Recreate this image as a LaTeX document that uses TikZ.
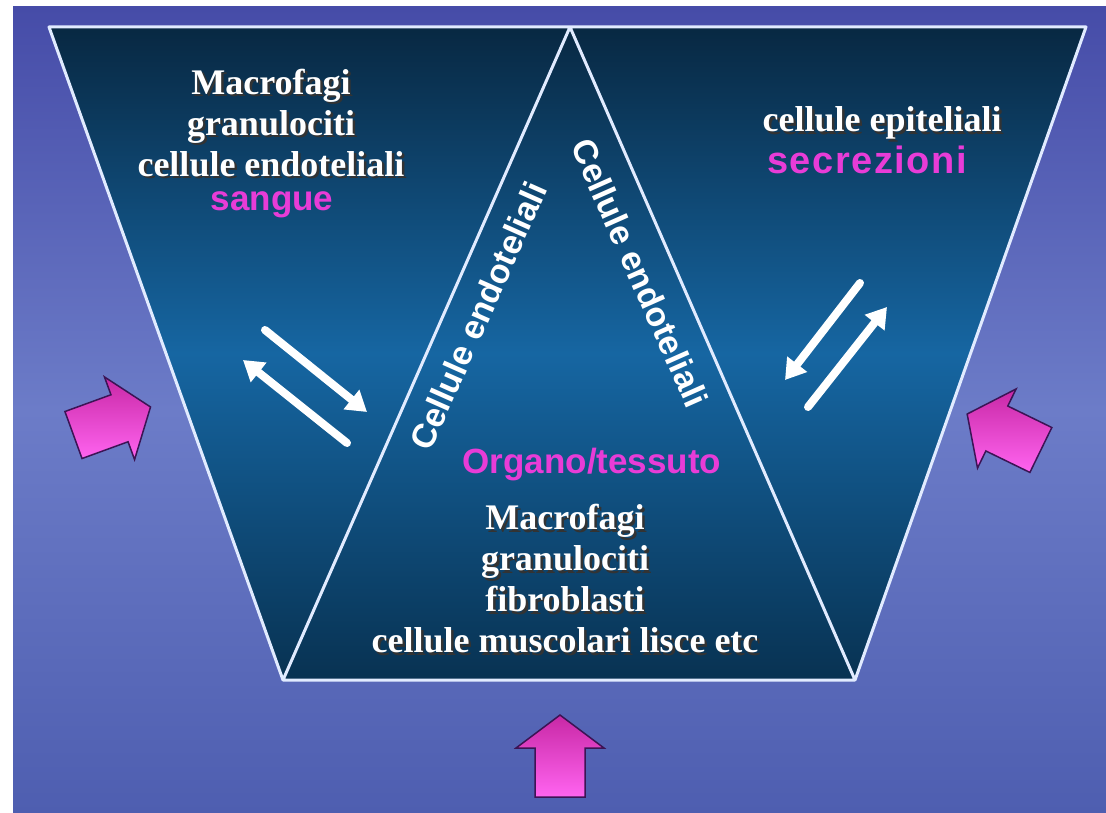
\documentclass[tikz,border=0pt]{standalone}
\usepackage{fontspec}
\setmainfont{Liberation Serif}
\newfontfamily\arialfont{Liberation Sans}
\usetikzlibrary{arrows.meta}

\definecolor{bgtop}{RGB}{70,76,168}
\definecolor{bgmid}{RGB}{108,124,200}
\definecolor{bgbot}{RGB}{78,94,176}
\definecolor{paneltop}{RGB}{8,40,66}
\definecolor{panelmid}{RGB}{22,102,162}
\definecolor{panelbot}{RGB}{8,50,82}
\definecolor{edgeline}{RGB}{225,235,255}
\definecolor{rosa}{RGB}{232,60,215}
\definecolor{arrowdark}{RGB}{200,40,165}
\definecolor{arrowlight}{RGB}{255,100,240}
\definecolor{arrowedge}{RGB}{60,20,85}

\tikzset{
  celltext/.style={text=white, font=\fontsize{36}{41}\selectfont\bfseries, align=center, inner sep=0pt},
  cellshadow/.style={celltext, text=black!80, xshift=2.5pt, yshift=-2.5pt},
  rosatext/.style={text=rosa, font=\fontsize{35}{41}\selectfont\arialfont\bfseries, inner sep=0pt},
  walltext/.style={text=white, font=\fontsize{34}{41}\selectfont\arialfont\bfseries, inner sep=0pt},
  flow/.style={white, line width=8pt, line cap=round, -{Triangle[width=24pt,length=20pt]}},
  push/.style={draw=arrowedge, line width=1.5pt, top color=arrowdark, bottom color=arrowlight, line join=miter},
}

\begin{document}
\begin{tikzpicture}[x=1pt,y=-1pt]
    \useasboundingbox (0,0) rectangle (1106,813);

    % Background of the slide
    \shade[top color=bgtop, bottom color=bgbot, middle color=bgmid] (13,7) rectangle (1106,813);

    % Corners of the three triangles
    \coordinate (tl) at (49,27);
    \coordinate (apex) at (570,27);
    \coordinate (tr) at (1086,27);
    \coordinate (bl) at (283,680);
    \coordinate (br) at (855,680);

    % Panel and its white edges
    \shade[top color=paneltop, bottom color=panelbot, middle color=panelmid] (tl) -- (tr) -- (br) -- (bl) -- cycle;
    \draw[edgeline, line width=3pt, line join=round] (tl) -- (tr) -- (br) -- (bl) -- cycle (bl) -- (apex) -- (br);

    % Blood side
    \node[cellshadow] at (271,123) {Macrofagi\\granulociti\\cellule endoteliali};
    \node[celltext] (bloodcells) at (271,123) {Macrofagi\\granulociti\\cellule endoteliali};
    \node[rosatext] (sangue) at (272,205) {sangue};

    % Secretion side
    \node[cellshadow] at (882,123) {cellule epiteliali};
    \node[celltext] (epicells) at (882,123) {cellule epiteliali};
    \node[rosatext] (secrezioni) at (867,160) {\fontsize{38}{41}\selectfont\addfontfeatures{LetterSpace=4}secrezioni};

    % Organ / tissue
    \node[rosatext] (organo) at (592,465) {Organo/tessuto};
    \node[cellshadow] at (565,579) {Macrofagi\\granulociti\\fibroblasti\\cellule muscolari lisce etc};
    \node[celltext] (tissuecells) at (565,579) {Macrofagi\\granulociti\\fibroblasti\\cellule muscolari lisce etc};

    % Endothelial walls
    \node[walltext, rotate=66] (wallleft) at (478,316) {Cellule endoteliali};
    \node[walltext, rotate=-66] (wallright) at (640,273) {Cellule endoteliali};

    % Exchange arrows
    \coordinate (la1) at (265,330);
    \coordinate (la2) at (367,412);
    \coordinate (lb1) at (347,443);
    \coordinate (lb2) at (243,360);
    \coordinate (ra1) at (860,283);
    \coordinate (ra2) at (785,380);
    \coordinate (rb1) at (808,407);
    \coordinate (rb2) at (887,307);
    \draw[flow] (la1) -- (la2);
    \draw[flow] (lb1) -- (lb2);
    \draw[flow] (ra1) -- (ra2);
    \draw[flow] (rb1) -- (rb2);

    % Magenta block arrows
    \foreach \px/\py/\rot in {112/421/-70, 1004/432/64, 560/756/0}
        \shadedraw[push, shift={(\px,\py)}, rotate=\rot] (0,-41) -- (44,-8) -- (25,-8) -- (25,41) -- (-25,41) -- (-25,-8) -- (-44,-8) -- cycle;

\end{tikzpicture}
\end{document}
